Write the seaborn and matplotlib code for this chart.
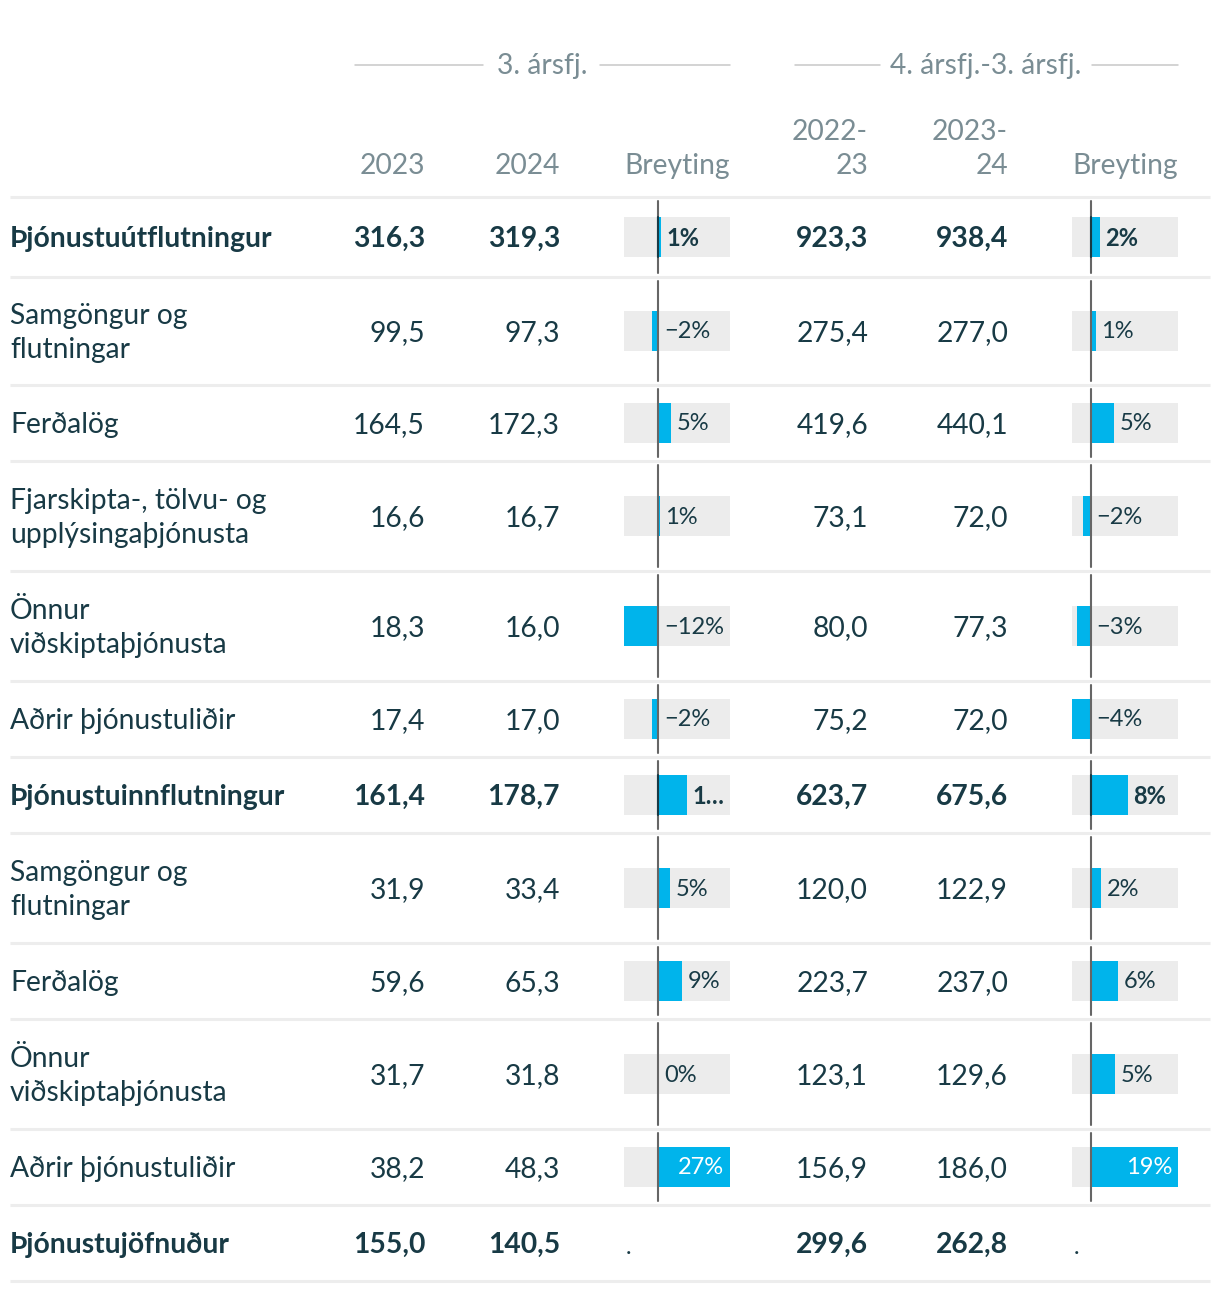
import matplotlib
matplotlib.use("Agg")
import matplotlib.pyplot as plt
import numpy as np
import seaborn as sns

categories = [
    "Þjónustuútflutningur", "Samgöngur og\nflutningar", "Ferðalög",
    "Fjarskipta-, tölvu- og\nupplýsingaþjónusta", "Önnur\nviðskiptaþjónusta",
    "Aðrir þjónustuliðir", "Þjónustuinnflutningur", "Samgöngur og\nflutningar",
    "Ferðalög", "Önnur\nviðskiptaþjónusta", "Aðrir þjónustuliðir", "Þjónustujöfnuður",
]
bold_rows = [True, False, False, False, False, False, True, False, False, False, False, True]
q3_2023 = [316.3, 99.5, 164.5, 16.6, 18.3, 17.4, 161.4, 31.9, 59.6, 31.7, 38.2, 155.0]
q3_2024 = [319.3, 97.3, 172.3, 16.7, 16.0, 17.0, 178.7, 33.4, 65.3, 31.8, 48.3, 140.5]
q3_change = [0.9, -2.2, 4.7, 0.6, -12.6, -2.3, 10.7, 4.5, 8.8, 0.3, 26.4, np.nan]
q3_labels = ["1%", "−2%", "5%", "1%", "−12%", "−2%", "1…", "5%", "9%", "0%", "27%", "."]
y4_2223 = [923.3, 275.4, 419.6, 73.1, 80.0, 75.2, 623.7, 120.0, 223.7, 123.1, 156.9, 299.6]
y4_2324 = [938.4, 277.0, 440.1, 72.0, 77.3, 72.0, 675.6, 122.9, 237.0, 129.6, 186.0, 262.8]
y4_change = [1.9, 1.0, 5.0, -1.8, -3.0, -4.1, 8.0, 2.2, 5.8, 5.2, 18.8, np.nan]
y4_labels = ["2%", "1%", "5%", "−2%", "−3%", "−4%", "8%", "2%", "6%", "5%", "19%", "."]

# Colours and layout
TEXT = "#183a45"
HEAD = "#7a8d94"
BLUE = "#00b4eb"
BG = "#ececec"
SEP = "#ededed"
W, H = 1220, 1292
FS = 20.3
FS_BAR = 17
row_edges = [197, 277, 385, 461, 571, 681, 757, 833, 943, 1019, 1129, 1205, 1281]
row_mid = [(a + b) / 2 for a, b in zip(row_edges[:-1], row_edges[1:])]

sns.set_theme(style="white")
plt.rcParams["font.family"] = ["Lato", "DejaVu Sans"]

fig = plt.figure(figsize=(W / 100, H / 100), dpi=100)
ax = fig.add_axes([0, 0, 1, 1])
ax.set_xlim(0, W)
ax.set_ylim(H, 0)
ax.axis("off")

# Group headers with lines
for label, cx, l1, l2 in [("3. ársfj.", 542, (355, 483), (600, 730)),
                          ("4. ársfj.-3. ársfj.", 986, (795, 880), (1092, 1178))]:
    ax.text(cx, 66, label, ha="center", va="center", fontsize=FS, color=HEAD)
    ax.plot(l1, [65, 65], color="#c8c8c8", lw=1.1)
    ax.plot(l2, [65, 65], color="#c8c8c8", lw=1.1)

# Column headers
for label, rx in [("2023", 425), ("2024", 560), ("Breyting", 730),
                  ("2022-\n23", 868), ("2023-\n24", 1008), ("Breyting", 1178)]:
    yy = 149 if "\n" in label else 166
    ax.text(rx, yy, label, ha="right", va="center", fontsize=FS, color=HEAD,
            multialignment="right", linespacing=1.42)

# Separators
for y in row_edges:
    ax.plot([10, 1210], [y, y], color=SEP, lw=2.2, solid_capstyle="butt")

# Row labels and numbers
for i, cat in enumerate(categories):
    weight = "bold" if bold_rows[i] else "normal"
    y = row_mid[i] + 2
    ax.text(10, y, cat, ha="left", va="center", fontsize=FS, color=TEXT,
            fontweight=weight, linespacing=1.4)
    for vals, rx in [(q3_2023, 425), (q3_2024, 560), (y4_2223, 868), (y4_2324, 1008)]:
        ax.text(rx, y, f"{vals[i]:.1f}".replace(".", ","), ha="right", va="center",
                fontsize=FS, color=TEXT, fontweight=weight)


def bar_column(x0, x1, values, labels):
    vmin, vmax = np.nanmin(values), np.nanmax(values)
    bax = fig.add_axes([x0 / W, 0, (x1 - x0) / W, 1])
    bax.set_xlim(vmin, vmax)
    bax.set_ylim(H, 0)
    bax.axis("off")
    for i, v in enumerate(values):
        y = row_mid[i]
        weight = "bold" if bold_rows[i] else "normal"
        if np.isnan(v):
            bax.annotate(labels[i], (vmin, y + 4), xytext=(1, 0), textcoords="offset points",
                         ha="left", va="center", fontsize=FS_BAR, color=TEXT)
            continue
        bax.barh(y, vmax - vmin, left=vmin, height=40, color=BG, lw=0)
        bax.barh(y, v, left=0, height=40, color=BLUE, lw=0)
        bax.plot([0, 0], [row_edges[i] + 4, row_edges[i + 1] - 4], color="#666666",
                 lw=1.5, clip_on=False)
        if bold_rows[i]:
            bax.plot([0, 0], [y - 20, y + 20], color=TEXT, lw=1.5)
        if v >= vmax * 0.8:
            bax.annotate(labels[i], (v, y + 1), xytext=(-4, 0), textcoords="offset points",
                         ha="right", va="center", fontsize=FS_BAR, color="white",
                         fontweight=weight)
        else:
            bax.annotate(labels[i], (max(v, 0), y + 1), xytext=(4, 0),
                         textcoords="offset points", ha="left", va="center",
                         fontsize=FS_BAR, color=TEXT, fontweight=weight)


bar_column(624, 730, q3_change, q3_labels)
bar_column(1072, 1178, y4_change, y4_labels)

fig.savefig("out.png", dpi=100, facecolor="white")
